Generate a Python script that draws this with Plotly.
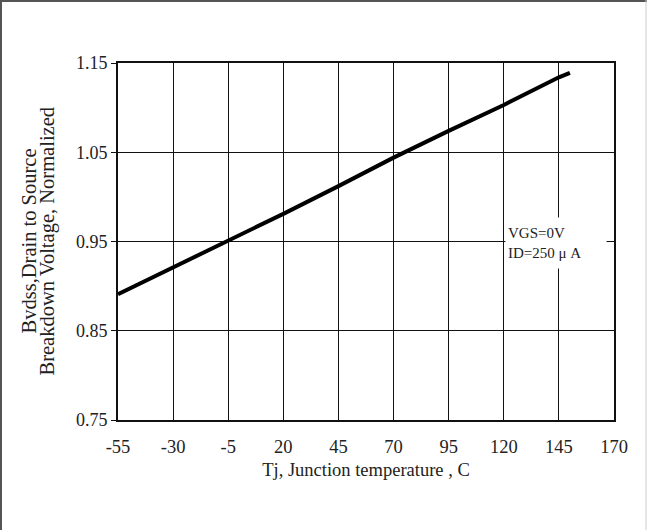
import plotly.graph_objects as go

# Data
temp_c = [-55, -30, -5, 20, 45, 70, 95, 120, 145, 150]
bvdss_norm = [0.891, 0.921, 0.950, 0.981, 1.012, 1.044, 1.074, 1.103, 1.134, 1.139]
x_ticks = [-55, -30, -5, 20, 45, 70, 95, 120, 145, 170]
y_ticks = [0.75, 0.85, 0.95, 1.05, 1.15]
y_tick_labels = ["0.75", "0.85", "0.95", "1.05", "1.15"]
y_title_lines = ["Bvdss,Drain to Source", "Breakdown Voltage, Normalized"]

W, H = 647, 530
ML, MR, MT, MB = 118, 33, 63, 110
PW, PH = W - ML - MR, H - MT - MB

serif = "Liberation Serif, Times New Roman, serif"
txt = "#222"
FX = 18.5
FY = 18

fig = go.Figure()
fig.add_trace(go.Scatter(x=temp_c, y=bvdss_norm, mode="lines",
                         line=dict(color="black", width=4), showlegend=False,
                         hoverinfo="skip"))

fig.update_layout(
    width=W, height=H,
    margin=dict(l=ML, r=MR, t=MT, b=MB),
    paper_bgcolor="white", plot_bgcolor="white",
    font=dict(family=serif, size=FX, color=txt),
    xaxis=dict(range=[-55, 170], tickvals=x_ticks, ticktext=[str(v) for v in x_ticks],
               showgrid=True, gridcolor="#111", gridwidth=1,
               showline=True, linecolor="#111", linewidth=2, mirror=True,
               ticks="outside", ticklen=9, tickcolor="rgba(0,0,0,0)",
               zeroline=False, tickfont=dict(size=FX, color=txt),
               title=dict(text="Tj, Junction temperature , C", standoff=7,
                          font=dict(size=FX, color=txt))),
    yaxis=dict(range=[0.75, 1.15], tickvals=y_ticks, ticktext=y_tick_labels,
               showgrid=True, gridcolor="#111", gridwidth=1,
               showline=True, linecolor="#111", linewidth=2, mirror=True,
               ticks="outside", ticklen=5, tickcolor="#111",
               zeroline=False, tickfont=dict(size=FY, color=txt)),
)

# Y axis title (two lines, placed separately)
for line_text, xpx in zip(y_title_lines, [28, 47]):
    fig.add_annotation(text=line_text,
                       xref="paper", yref="paper", x=(xpx - ML) / PW, y=0.5,
                       xanchor="center", yanchor="middle", textangle=-90,
                       showarrow=False, font=dict(size=20.5, color=txt, family=serif))

# Condition label box
fig.add_annotation(text="VGS=0V<br>ID=250 μ A", xref="x", yref="y",
                   x=120.6, y=0.9485, xanchor="left", yanchor="middle",
                   align="left", showarrow=False, bgcolor="white",
                   width=96, height=46, borderpad=2,
                   font=dict(size=15, color=txt, family=serif))

# Outer frame of the image
fig.add_shape(type="line", xref="paper", yref="paper",
              x0=-ML / PW, x1=(W - ML) / PW, y0=(H - MB - 1) / PH, y1=(H - MB - 1) / PH,
              line=dict(color="#555", width=2))
fig.add_shape(type="line", xref="paper", yref="paper",
              x0=(-ML + 1) / PW, x1=(-ML + 1) / PW, y0=-MB / PH, y1=(H - MB) / PH,
              line=dict(color="#555", width=2))
fig.add_shape(type="line", xref="paper", yref="paper",
              x0=(W - ML - 1) / PW, x1=(W - ML - 1) / PW, y0=-MB / PH, y1=(H - MB) / PH,
              line=dict(color="#ccc", width=1))

fig.write_html("out.html")
